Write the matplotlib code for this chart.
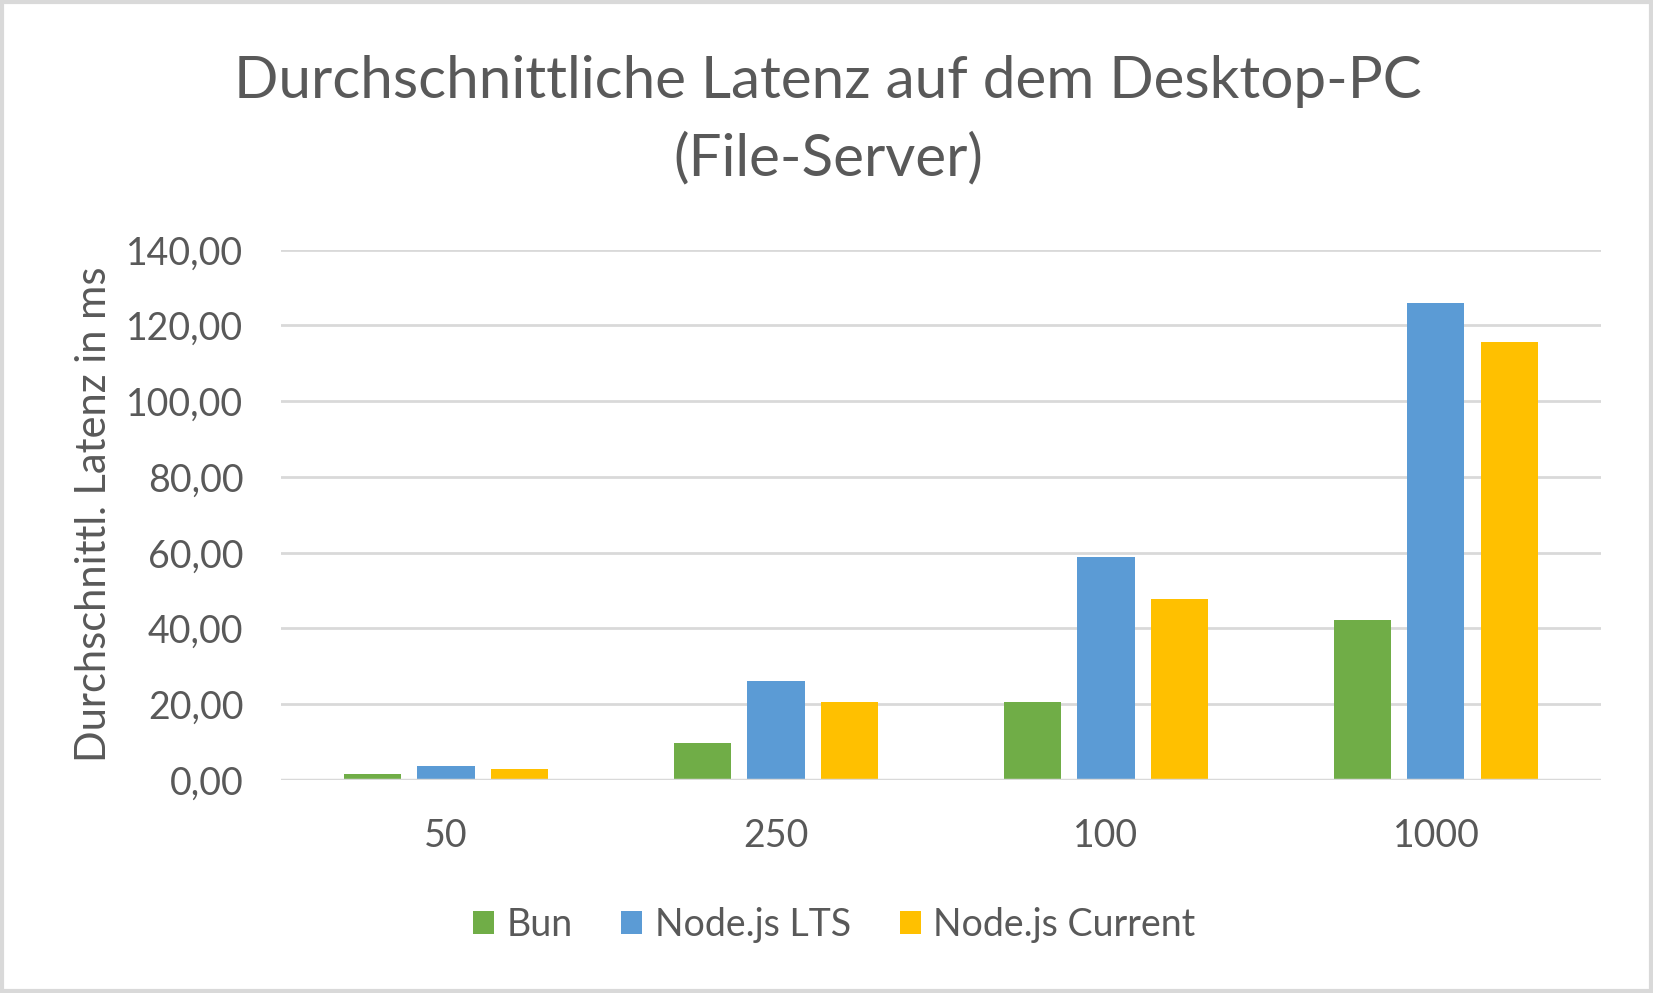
import matplotlib.pyplot as plt
import numpy as np

# Daten
kategorien = ["50", "250", "100", "1000"]
bun = [1.6, 9.9, 20.6, 42.2]
node_lts = [3.7, 26.1, 58.9, 125.9]
node_current = [2.9, 20.5, 47.7, 115.6]
serien = ["Bun", "Node.js LTS", "Node.js Current"]
farben = ["#70AD47", "#5B9BD5", "#FFC000"]
y_ticks = [0, 20, 40, 60, 80, 100, 120, 140]

text_farbe = "#595959"
plt.rcParams['font.family'] = ['Lato', 'DejaVu Sans']

fig = plt.figure(figsize=(16.53, 9.93), dpi=100)
ax = fig.add_axes([0.170, 0.2145, 0.7985, 0.534])

x = np.arange(len(kategorien))
breite = 0.173
abstand = 0.2224
for i, (werte, name, farbe) in enumerate(zip([bun, node_lts, node_current], serien, farben)):
    ax.bar(x + (i - 1) * abstand, werte, width=breite, color=farbe, label=name, zorder=3)

ax.set_xlim(-0.5, len(kategorien) - 0.5)
ax.set_ylim(0, 140)
ax.set_yticks(y_ticks)
ax.set_yticklabels([f"{v:.2f}".replace(".", ",") for v in y_ticks])
ax.set_xticks(x)
ax.set_xticklabels(kategorien)
ax.tick_params(axis='both', length=0, labelsize=27, colors=text_farbe)
ax.tick_params(axis='x', pad=27)
ax.tick_params(axis='y', pad=27)
ax.grid(axis='y', color="#D9D9D9", linewidth=2, zorder=0)
for s in ax.spines.values():
    s.set_visible(False)
ax.axhline(0, color="#D9D9D9", linewidth=2.5, zorder=4)

ax.set_ylabel("Durchschnittl. Latenz in ms", fontsize=30, color=text_farbe)
ax.yaxis.set_label_coords(-0.127, 0.502)

fig.text(0.501, 0.918, "Durchschnittliche Latenz auf dem Desktop-PC", ha='center', va='center',
         fontsize=42, color=text_farbe)
fig.text(0.501, 0.840, "(File-Server)", ha='center', va='center', fontsize=42, color=text_farbe)

handles, labels = ax.get_legend_handles_labels()
fig.legend(handles, labels, loc='center', bbox_to_anchor=(0.5047, 0.0685), ncol=3, frameon=False,
           fontsize=27, labelcolor=text_farbe, handlelength=0.56, handleheight=0.56,
           handletextpad=0.34, columnspacing=1.29)

# Rahmen um die ganze Grafik
fig.patches.append(plt.Rectangle((0.001, 0.002), 0.998, 0.996, transform=fig.transFigure,
                                 fill=False, edgecolor="#D9D9D9", linewidth=3))

fig.savefig("out.png", dpi=100)
